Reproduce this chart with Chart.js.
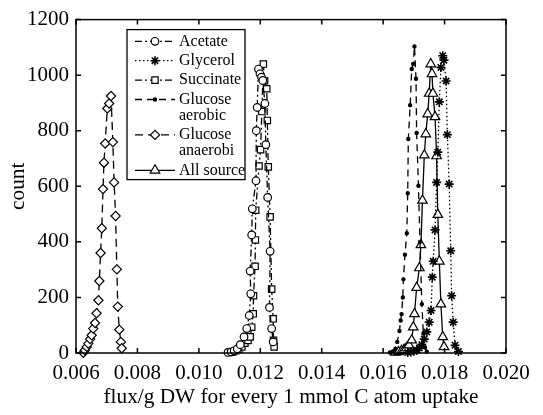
<!DOCTYPE html>
<html>
<head>
<meta charset="utf-8">
<script src="https://cdn.jsdelivr.net/npm/chart.js@4.4.1/dist/chart.umd.min.js"></script>
<style>
  html, body { margin: 0; padding: 0; background: #fff; }
</style>
</head>
<body>
<canvas id="chart" width="543" height="415"></canvas>
<script>
// Series names (legend text, split into lines as in the figure)
const seriesNames = ['Acetate', 'Glycerol', 'Succinate', 'Glucose aerobic', 'Glucose anaerobi', 'All source'];
const legendLines = [['Acetate'], ['Glycerol'], ['Succinate'], ['Glucose', 'aerobic'], ['Glucose', 'anaerobi'], ['All source']];

// Flux values (x) and counts (y)
const acetateX = [0.01095, 0.01105, 0.01115, 0.01125, 0.01135, 0.01147, 0.01156, 0.01164, 0.01169, 0.01167, 0.01172, 0.01174, 0.01186, 0.01187, 0.01190, 0.01194, 0.01199, 0.01204, 0.01208, 0.01215, 0.01218, 0.01224, 0.01232, 0.01230, 0.01237, 0.01242];
const acetateY = [2, 4, 8, 15, 30, 58, 88, 135, 213, 295, 425, 519, 620, 800, 884, 1022, 1005, 993, 981, 898, 750, 560, 366, 164, 88, 40];

const glycerolX = [0.01680, 0.01690, 0.01700, 0.01710, 0.01718, 0.01726, 0.01734, 0.01742, 0.01750, 0.01756, 0.01760, 0.01763, 0.01769, 0.01774, 0.01778, 0.01783, 0.01788, 0.01794, 0.01798, 0.01805, 0.01809, 0.01815, 0.01820, 0.01823, 0.01828, 0.01834, 0.01845];
const glycerolY = [2, 4, 6, 10, 18, 30, 50, 76, 111, 153, 273, 330, 443, 614, 723, 904, 1028, 1070, 1054, 979, 786, 608, 368, 206, 111, 28, 5];

const succinateX = [0.01098, 0.01110, 0.01120, 0.01130, 0.01140, 0.01150, 0.01160, 0.01167, 0.01172, 0.01177, 0.01178, 0.01183, 0.01184, 0.01185, 0.01196, 0.01201, 0.01205, 0.01210, 0.01214, 0.01221, 0.01223, 0.01226, 0.01232, 0.01237, 0.01242, 0.01243, 0.01245];
const succinateY = [2, 4, 8, 14, 22, 35, 45, 58, 93, 141, 206, 312, 407, 514, 673, 732, 869, 1040, 980, 951, 837, 670, 490, 230, 123, 46, 22];

const aerobicX = [0.01622, 0.01632, 0.01640, 0.01646, 0.01653, 0.01657, 0.01660, 0.01664, 0.01666, 0.01671, 0.01677, 0.01680, 0.01682, 0.01688, 0.01693, 0.01698, 0.01702, 0.01707, 0.01709, 0.01715, 0.01720, 0.01726, 0.01731, 0.01736, 0.01742];
const aerobicY = [2, 6, 15, 40, 79, 117, 140, 200, 265, 354, 431, 575, 770, 892, 1022, 1040, 1103, 987, 792, 602, 400, 176, 70, 20, 5];

const anaerobicX = [0.00624, 0.00629, 0.00635, 0.00640, 0.00646, 0.00651, 0.00656, 0.00662, 0.00667, 0.00673, 0.00676, 0.00680, 0.00684, 0.00688, 0.00691, 0.00695, 0.00702, 0.00708, 0.00714, 0.00720, 0.00724, 0.00729, 0.00733, 0.00736, 0.00741, 0.00746, 0.00749];
const anaerobicY = [1, 10, 22, 34, 50, 64, 88, 108, 143, 190, 259, 360, 449, 590, 685, 754, 880, 898, 925, 759, 614, 493, 301, 167, 84, 40, 17];

const allSourceX = [0.01640, 0.01650, 0.01660, 0.01668, 0.01676, 0.01684, 0.01693, 0.01698, 0.01702, 0.01709, 0.01718, 0.01723, 0.01728, 0.01734, 0.01739, 0.01745, 0.01750, 0.01755, 0.01759, 0.01762, 0.01769, 0.01774, 0.01778, 0.01783, 0.01788, 0.01794, 0.01798];
const allSourceY = [2, 4, 8, 12, 18, 28, 46, 93, 141, 235, 306, 389, 549, 712, 788, 860, 934, 1040, 1005, 934, 850, 709, 498, 330, 176, 58, 22];

// Axis ticks
const xTicks = [0.006, 0.008, 0.010, 0.012, 0.014, 0.016, 0.018, 0.020];
const yTicks = [0, 200, 400, 600, 800, 1000, 1200];

const FONT = '"Liberation Serif", "Times New Roman", serif';

const toPoints = (xs, ys) => xs.map((x, i) => ({ x, y: ys[i] }));

const makeSeries = (name, xs, ys, style) => Object.assign({
    label: name,
    data: toPoints(xs, ys),
    showLine: true,
    borderColor: '#000',
    borderWidth: 1.3,
    pointBorderColor: '#000',
    pointBackgroundColor: '#fff',
    pointBorderWidth: 1.2,
    pointHoverRadius: 0,
    clip: false
}, style);

const datasets = [
    makeSeries(seriesNames[0], acetateX, acetateY, { borderDash: [7, 3, 2, 3], pointStyle: 'circle', pointRadius: 3.8 }),
    makeSeries(seriesNames[1], glycerolX, glycerolY, { borderDash: [1.5, 2.5], pointStyle: 'star', pointRadius: 4.5, pointBorderWidth: 1.6 }),
    makeSeries(seriesNames[2], succinateX, succinateY, { borderDash: [7, 3, 2, 3], pointStyle: 'rect', pointRadius: 4.5 }),
    makeSeries(seriesNames[3], aerobicX, aerobicY, { borderDash: [7, 5], pointStyle: 'circle', pointRadius: 1.6, pointBackgroundColor: '#000' }),
    makeSeries(seriesNames[4], anaerobicX, anaerobicY, { borderDash: [8, 5], pointStyle: 'rectRot', pointRadius: 4.6 }),
    makeSeries(seriesNames[5], allSourceX, allSourceY, { pointStyle: 'triangle', pointRadius: 5.5 })
];

// Box frame with inward ticks on all four sides
const frameTicks = {
    id: 'frameTicks',
    afterDatasetsDraw(chart) {
        const { ctx, chartArea: a, scales: { x, y } } = chart;
        const len = 5;
        ctx.save();
        ctx.strokeStyle = '#000';
        ctx.lineWidth = 1.5;
        ctx.setLineDash([]);
        ctx.strokeRect(a.left, a.top, a.right - a.left, a.bottom - a.top);
        ctx.beginPath();
        x.ticks.forEach(t => {
            const px = x.getPixelForValue(t.value);
            ctx.moveTo(px, a.bottom); ctx.lineTo(px, a.bottom - len);
            ctx.moveTo(px, a.top); ctx.lineTo(px, a.top + len);
        });
        y.ticks.forEach(t => {
            const py = y.getPixelForValue(t.value);
            ctx.moveTo(a.left, py); ctx.lineTo(a.left + len, py);
            ctx.moveTo(a.right, py); ctx.lineTo(a.right - len, py);
        });
        ctx.stroke();
        ctx.restore();
    }
};

// Legend box: line sample with marker, multi-line labels
const legendBox = {
    id: 'legendBox',
    afterDraw(chart) {
        const { ctx, chartArea: a } = chart;
        const x0 = a.left + 51, y0 = a.top + 10;
        const w = 118, h = 150;
        const lineH = 16, gap = 3.4;
        ctx.save();
        ctx.fillStyle = '#fff';
        ctx.fillRect(x0, y0, w, h);
        ctx.strokeStyle = '#000';
        ctx.lineWidth = 1.3;
        ctx.strokeRect(x0, y0, w, h);
        ctx.font = '16px ' + FONT;
        ctx.textBaseline = 'middle';
        ctx.textAlign = 'left';
        let yy = y0 + 11.7;
        chart.data.datasets.forEach((ds, i) => {
            ctx.strokeStyle = '#000';
            ctx.lineWidth = ds.borderWidth;
            ctx.setLineDash(ds.borderDash || []);
            ctx.beginPath();
            ctx.moveTo(x0 + 8, yy);
            ctx.lineTo(x0 + 48, yy);
            ctx.stroke();
            ctx.setLineDash([]);
            ctx.fillStyle = ds.pointBackgroundColor;
            ctx.lineWidth = ds.pointBorderWidth;
            Chart.helpers.drawPoint(ctx, {
                pointStyle: ds.pointStyle,
                radius: ds.pointRadius,
                borderWidth: ds.pointBorderWidth,
                rotation: 0
            }, x0 + 28, yy);
            ctx.fillStyle = '#000';
            legendLines[i].forEach((t, k) => ctx.fillText(t, x0 + 52, yy + k * lineH));
            yy += legendLines[i].length * lineH + gap;
        });
        ctx.restore();
    }
};

new Chart(document.getElementById('chart'), {
    type: 'scatter',
    data: { datasets },
    options: {
        responsive: false,
        animation: false,
        events: [],
        layout: { padding: { left: 0, top: 15, right: 37, bottom: 0 } },
        plugins: {
            legend: { display: false },
            tooltip: { enabled: false }
        },
        scales: {
            x: {
                type: 'linear',
                min: xTicks[0],
                max: xTicks[xTicks.length - 1],
                afterBuildTicks: s => { s.ticks = xTicks.map(v => ({ value: v })); },
                afterFit: s => { s.height = 62; },
                ticks: {
                    color: '#000',
                    padding: 8,
                    maxRotation: 0,
                    font: { family: FONT, size: 21 },
                    callback: v => Number(v).toFixed(3)
                },
                grid: { display: false, drawTicks: false },
                border: { display: false },
                title: {
                    display: true,
                    text: 'flux/g DW for every 1 mmol C atom uptake',
                    color: '#000',
                    font: { family: FONT, size: 21.3 },
                    padding: { top: 0, bottom: 5 }
                }
            },
            y: {
                min: yTicks[0],
                max: yTicks[yTicks.length - 1],
                afterBuildTicks: s => { s.ticks = yTicks.map(v => ({ value: v })); },
                afterFit: s => { s.width = 76; },
                ticks: {
                    color: '#000',
                    padding: 7,
                    font: { family: FONT, size: 21 },
                    callback: v => String(v)
                },
                grid: { display: false, drawTicks: false },
                border: { display: false },
                title: {
                    display: true,
                    text: 'count',
                    color: '#000',
                    font: { family: FONT, size: 21.3 },
                    padding: { top: 6, bottom: 0 }
                }
            }
        }
    },
    plugins: [frameTicks, legendBox]
});
</script>
</body>
</html>
